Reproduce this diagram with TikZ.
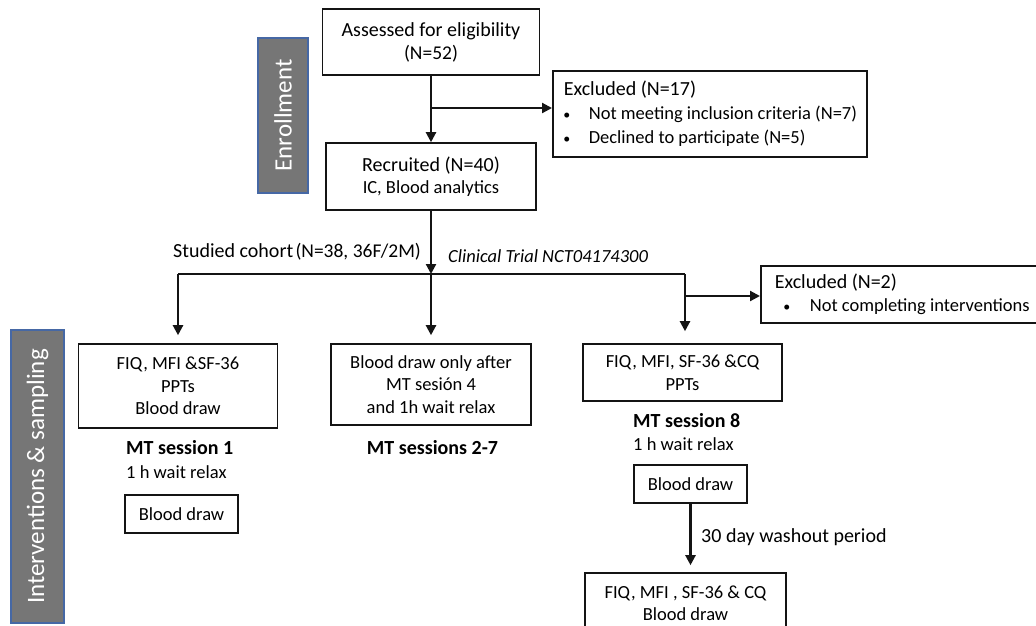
\documentclass[tikz,border=0pt]{standalone}
\usepackage{fontspec}
\setmainfont{Carlito}
\usetikzlibrary{arrows.meta}
\definecolor{barGray}{RGB}{118,118,118}
\definecolor{barBlue}{RGB}{70,104,165}
\definecolor{lineCol}{RGB}{20,20,20}
\newcommand\fA{\fontsize{20}{24}\selectfont}
\newcommand\fB{\fontsize{18.5}{22.5}\selectfont}
\newcommand\fC{\fontsize{19.5}{23}\selectfont}
\newcommand\bul{{\fontsize{14}{14}\selectfont\textbullet}}
\begin{document}
\begin{tikzpicture}[x=1pt,y=-1pt,
  box/.style={draw=lineCol, line width=1.6pt, inner sep=0pt, align=center, font=\fB},
  lbox/.style={draw=lineCol, line width=1.6pt, inner xsep=0pt, inner ysep=0pt, align=left, anchor=north west, font=\fA},
  arr/.style={draw=lineCol, line width=2.2pt, -{Triangle[length=10pt,width=10pt]}},
  plain/.style={draw=lineCol, line width=2.2pt},
  bar/.style={fill=barGray, draw=barBlue, line width=1.5pt, text=white, inner sep=0pt, rotate=90, font=\fontsize{25}{30}\selectfont},
  lab/.style={inner sep=0pt, anchor=west}
]
\useasboundingbox (0,0) rectangle (1036,625);
\fill[white] (0,0) rectangle (1036,625);
\clip (0,0) rectangle (1036,625);

% side bars
\node[bar, minimum width=155pt, minimum height=50pt] (enr) at (283,115.5) {Enrollment};
\node[bar, minimum width=293pt, minimum height=53pt] (intv) at (37.5,476.5) {Interventions \& sampling};

% enrollment
\node[box, font=\fA, minimum width=217pt, minimum height=66pt] (assess) at (431,42) {Assessed for eligibility\\[-1pt]{\fC (N=52)}};
\node[lbox, minimum width=314pt, minimum height=86pt] (excl1) at (552,70)
  {\makebox[314pt][l]{\hspace*{11pt}Excluded (N=17)}\\
   \makebox[314pt][l]{\fB\hspace*{10.5pt}\makebox[25.5pt][l]{\bul}Not meeting inclusion criteria (N=7)}\\
   \makebox[314pt][l]{\fB\hspace*{10.5pt}\makebox[25.5pt][l]{\bul}Declined to participate (N=5)}};
\node[box, font=\fA, minimum width=210pt, minimum height=67pt] (recr) at (431,176.5) {Recruited (N=40)\\[-2pt]{\fB IC, Blood analytics}};

\coordinate (j1) at (431,108);
\draw[arr] (assess.south) -- (recr.north);
\draw[arr] (j1) -- (j1 -| excl1.west);

% cohort split
\node[lab] (cohort) at (173,252) {{\fA Studied cohort} {\fC(N=38, 36F/2M)}};
\node[lab] (trial) at (448,256) {\fB\itshape Clinical Trial NCT04174300};

\node[box, minimum width=199pt, minimum height=84pt] (b1) at (178,386) {FIQ, MFI \&SF-36\\PPTs\\Blood draw};
\node[box, minimum width=200pt, minimum height=81pt] (b2) at (431,384.5) {Blood draw only after\\MT sesión 4\\and 1h wait relax};
\node[box, minimum width=199pt, minimum height=57pt] (b3) at (682.5,372.5) {FIQ, MFI, SF-36 \&CQ\\PPTs};
\node[lbox, minimum width=290pt, minimum height=57pt] (excl2) at (760,265)
  {\makebox[290pt][l]{\hspace*{14pt}Excluded (N=2)}\\[-1pt]
   \makebox[290pt][l]{\fB\hspace*{22.5pt}\makebox[26.5pt][l]{\bul}Not completing interventions}};

\coordinate (j2) at (431,274);
\coordinate (j2l) at (178,274);
\coordinate (j2r) at (685,274);
\coordinate (j3) at (685,296);
\draw[arr] (recr.south) -- (j2);
\draw[plain] (j2l) -- (j2r);
\draw[arr, shorten >=8pt] (j2l) -- (b1.north);
\draw[arr, shorten >=8pt] (j2) -- (b2.north);
\draw[arr, shorten >=12pt] (j2r) -- (j2r |- b3.north);
\draw[arr] (j3) -- (j3 -| excl2.west);

% session labels
\node[lab] (s1) at (126,448) {\fA\bfseries MT session 1};
\node[lab] (w1) at (126,472) {\fB 1 h wait relax};
\node[box, minimum width=113pt, minimum height=38pt] (bd1) at (181.5,514) {Blood draw};

\node[inner sep=0pt] (s2) at (432.5,448) {\fA\bfseries MT sessions 2-7};

\node[lab] (s8) at (633,421) {\fA\bfseries MT session 8};
\node[lab] (w8) at (633,444) {\fB 1 h wait relax};
\node[box, minimum width=113pt, minimum height=38pt] (bd3) at (690.5,484) {Blood draw};

\node[box, minimum width=201pt, minimum height=60pt] (fin) at (685.5,603) {FIQ, MFI , SF-36 \& CQ\\Blood draw};
\draw[arr, shorten >=7pt] (bd3.south) -- (bd3.south |- fin.north);
\node[lab] (wash) at (701,537) {\fA 30 day washout period};
\end{tikzpicture}
\end{document}
